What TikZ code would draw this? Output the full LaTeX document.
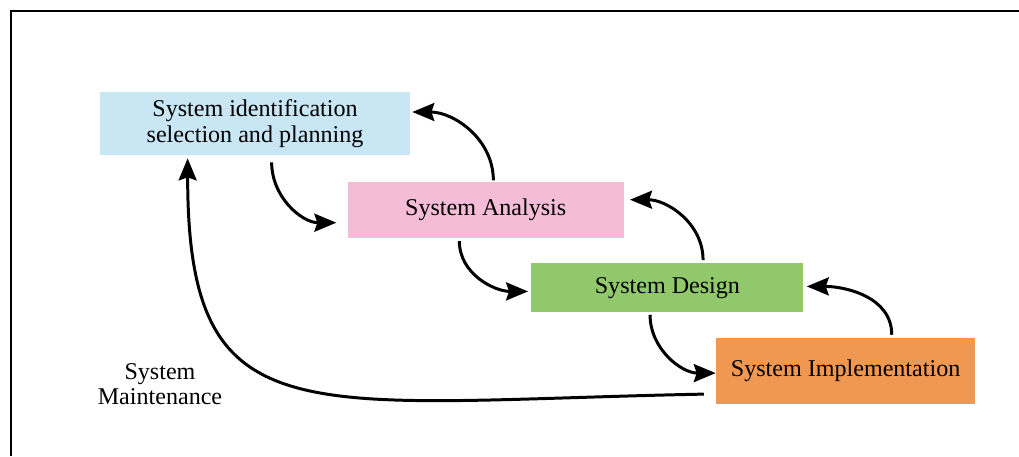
\documentclass[tikz,border=0pt]{standalone}
\usepackage{fontspec}
\setmainfont{Liberation Serif}
\usepackage{tikz}
\usetikzlibrary{arrows.meta,positioning}
\usepackage{xcolor}

\definecolor{identblue}{RGB}{200,230,244}
\definecolor{analysispink}{RGB}{244,188,214}
\definecolor{designgreen}{RGB}{146,200,108}
\definecolor{implorange}{RGB}{240,152,82}

\begin{document}
\begin{tikzpicture}[
    box/.style={rectangle, inner sep=0pt, align=center, font=\fontsize{13.7}{14.5}\selectfont},
    label/.style={align=center, inner sep=0pt, font=\fontsize{13.7}{14.5}\selectfont},
    arrow/.style={-{Stealth[length=0.44cm, width=0.36cm, inset=0.06cm]}, line width=1.7pt},
    frame/.style={line width=1.6pt}
]
    \useasboundingbox (0,0) rectangle (20.38,-9.12);

    % Frame
    \draw[frame] (0.22,-9.12) -- (0.22,-0.22) -- (20.38,-0.22);

    % Identification
    \node[box, fill=identblue, minimum width=6.2cm, minimum height=1.26cm] (ident) at (5.1,-2.47) {System identification\\selection and planning};

    % Analysis
    \node[box, fill=analysispink, minimum width=5.52cm, minimum height=1.12cm, below right=0.52cm and -1.26cm of ident] (analysis) {System Analysis};

    % Design
    \node[box, fill=designgreen, minimum width=5.44cm, minimum height=0.98cm, below right=0.5cm and -1.86cm of analysis] (design) {System Design};

    % Implementation
    \node[box, fill=implorange, minimum width=5.18cm, minimum height=1.32cm, below right=0.5cm and -1.76cm of design] (impl) {System Implementation};

    % Maintenance
    \node[label] (maint) at (3.2,-7.68) {System\\Maintenance};

    % Arrows down
    \draw[arrow] ([xshift=3.44cm, yshift=-0.14cm]ident.south west) to[out=-90, in=180] ([xshift=-0.22cm, yshift=-0.26cm]analysis.west);
    \draw[arrow] ([xshift=2.24cm, yshift=-0.06cm]analysis.south west) to[out=-90, in=180] ([xshift=-0.06cm, yshift=-0.07cm]design.west);
    \draw[arrow] ([xshift=2.38cm, yshift=-0.04cm]design.south west) to[out=-90, in=180] ([yshift=-0.04cm]impl.west);

    % Arrows back
    \draw[arrow] ([xshift=2.92cm, yshift=0.02cm]analysis.north west) to[out=90, in=0] ([xshift=0.04cm, yshift=0.23cm]ident.east);
    \draw[arrow] ([xshift=3.44cm, yshift=0.06cm]design.north west) to[out=90, in=0] ([xshift=0.12cm, yshift=0.2cm]analysis.east);
    \draw[arrow] ([xshift=3.52cm, yshift=0.06cm]impl.north west) to[out=90, in=0] ([xshift=0.06cm, yshift=0.03cm]design.east);

    % Maintenance loop
    \draw[arrow] ([xshift=-0.24cm, yshift=-0.46cm]impl.west) .. controls +(-8.04cm,-0.16cm) and +(0,-5.64cm) .. ([xshift=1.76cm, yshift=-0.06cm]ident.south west);
\end{tikzpicture}
\end{document}
